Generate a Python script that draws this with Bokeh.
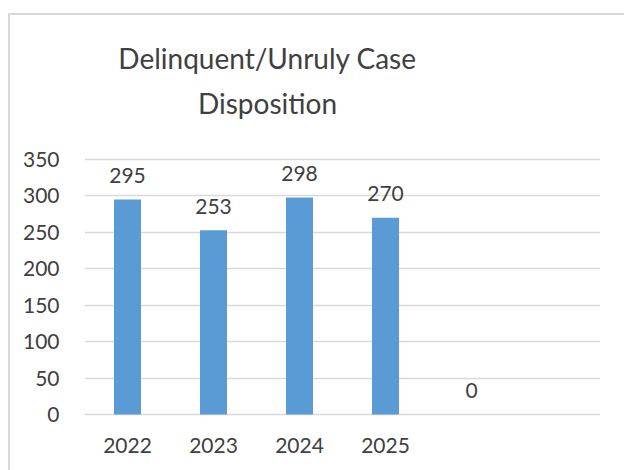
from bokeh.plotting import figure
from bokeh.models import ColumnDataSource, Range1d, FixedTicker, LabelSet, LinearAxis
from bokeh.core.properties import value
from bokeh.embed import file_html
from bokeh.resources import INLINE

# ---- data ----
title_lines = ["Delinquent/Unruly Case", "Disposition"]
categories = ["2022", "2023", "2024", "2025", ""]   # 5th slot has no axis label
n_slots = 6                                          # one further empty slot on the right
values = [295, 253, 298, 270, 0]
labels = [str(v) for v in values]
y_ticks = [0, 50, 100, 150, 200, 250, 300, 350]

FONT = "Lato"
TEXT = "#404040"
GRID = "#D9D9D9"
BAR = "#5B9BD5"

xpos = list(range(len(categories)))
src = ColumnDataSource(dict(x=xpos, val=values, lab=labels))

p = figure(width=624, height=470, output_backend="svg", toolbar_location=None,
           x_range=Range1d(-0.5, n_slots - 0.5),
           y_range=Range1d(-5.49, 356.86),
           min_border_left=84, min_border_right=24, min_border_top=154, min_border_bottom=52)
p.outline_line_color = None
p.background_fill_color = "white"
p.border_fill_alpha = 0
# chart border (thin grey frame of the chart area, drawn behind the transparent canvas)
p.styles = {
    "background": ("linear-gradient(#D9D9D9,#D9D9D9) 8px 13px / 2px 100% no-repeat, "
                   "linear-gradient(#D9D9D9,#D9D9D9) 8px 13px / 100% 2px no-repeat, white"),
}

p.vbar(x="x", top="val", width=0.314, source=src, color=BAR, line_color=None)

p.add_layout(LabelSet(x="x", y="val", text="lab", source=src, y_offset=24,
                      text_align="center", text_baseline="middle",
                      text_font=value(FONT), text_font_size=value("21px"), text_color=TEXT))

# axes
p.yaxis.ticker = FixedTicker(ticks=y_ticks)
p.yaxis.axis_line_color = None
p.yaxis.major_tick_line_color = None
p.yaxis.minor_tick_line_color = None
p.yaxis.major_label_standoff = 19
p.yaxis.major_label_text_font = FONT
p.yaxis.major_label_text_font_size = "21px"
p.yaxis.major_label_text_color = TEXT

xa = p.below[0]
xa.ticker = FixedTicker(ticks=xpos)
xa.major_label_overrides = {i: c for i, c in zip(xpos, categories)}
xa.axis_line_color = None
xa.major_tick_line_color = None
xa.minor_tick_line_color = None
xa.major_tick_out = 0
xa.major_label_standoff = 19
xa.major_label_text_font = FONT
xa.major_label_text_font_size = "21px"
xa.major_label_text_color = TEXT

p.xgrid.grid_line_color = None
p.ygrid.grid_line_color = GRID
p.ygrid.grid_line_width = 1.3

# title: two stacked label-only axes above the frame
p.extra_x_ranges = {"title": Range1d(84, 600)}
title_x = 267
for txt, standoff in zip(reversed(title_lines), [35, 8]):
    ax = LinearAxis(x_range_name="title", ticker=FixedTicker(ticks=[title_x]),
                    major_label_overrides={title_x: txt})
    ax.axis_line_color = None
    ax.major_tick_line_color = None
    ax.minor_tick_line_color = None
    ax.major_tick_out = 0
    ax.major_tick_in = 0
    ax.major_label_standoff = standoff
    ax.major_label_text_font = FONT
    ax.major_label_text_font_size = "28px"
    ax.major_label_text_color = TEXT
    p.add_layout(ax, "above")

open("out.html", "w").write(file_html(p, INLINE))
